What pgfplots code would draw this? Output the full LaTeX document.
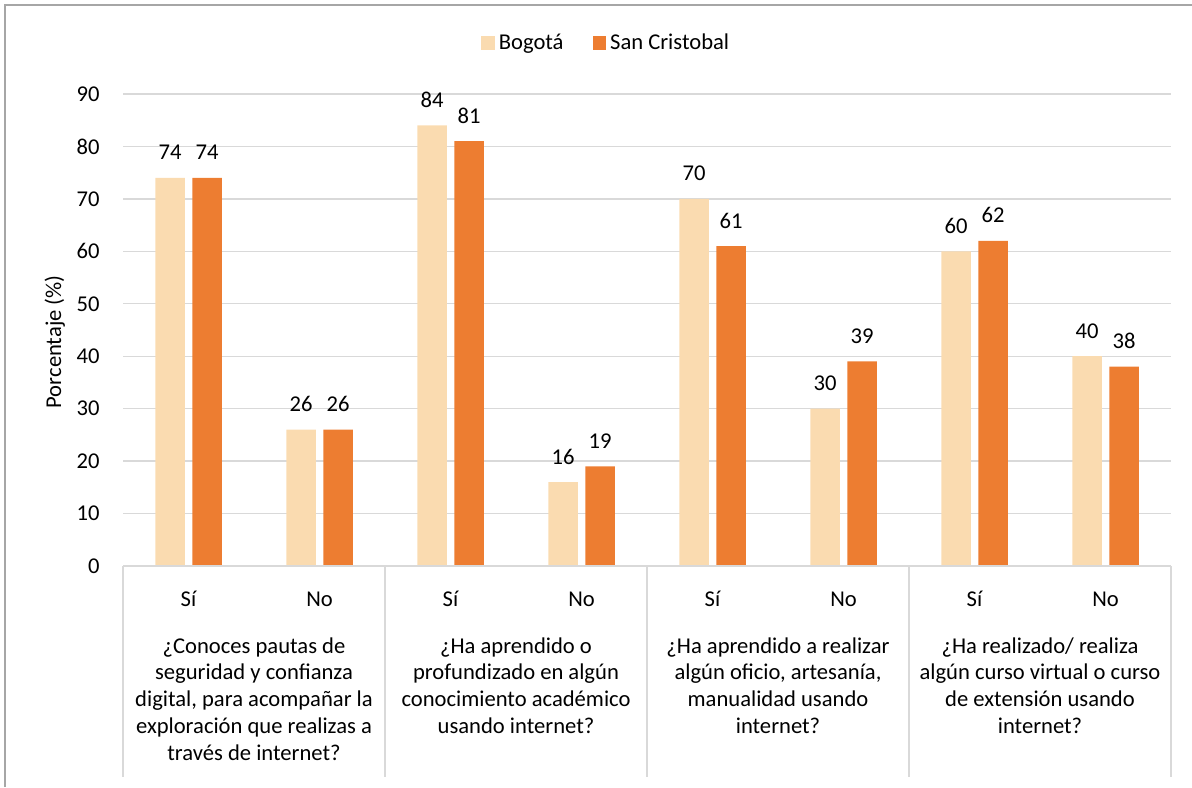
\documentclass[border=0pt]{standalone}
\usepackage{pgfplots}
\pgfplotsset{compat=1.18}
\usepackage{fontspec}
\setmainfont{Carlito}
\definecolor{bog}{HTML}{FADBB0}
\definecolor{sanc}{HTML}{ED7D31}
\definecolor{gridc}{HTML}{D9D9D9}
\definecolor{framec}{HTML}{A6A6A6}

\begin{document}
\begin{tikzpicture}
\useasboundingbox (0,0) rectangle (596pt,393.5pt);
\draw[framec, line width=0.8pt] (2.5pt,0) -- (2.5pt,391pt) -- (596pt,391pt);
\begin{axis}[
  at={(61.5pt,110.5pt)}, anchor=south west,
  scale only axis, width=524pt, height=236pt,
  font=\fontsize{11.3pt}{13.4pt}\selectfont,
  ymin=0, ymax=90, ytick={0,10,...,90},
  xmin=-0.5, xmax=7.5,
  xtick={0,...,7},
  xticklabels={Sí,No,Sí,No,Sí,No,Sí,No},
  axis line style={draw=none},
  major tick length=0pt,
  ymajorgrids, grid style={gridc, line width=0.7pt},
  yticklabel style={anchor=east, inner sep=0pt, xshift=-11.5pt},
  xticklabel style={anchor=base, inner sep=0pt, yshift=-20pt},
  ylabel={Porcentaje (\%)},
  ylabel style={at={(rel axis cs:0,0.475)}, anchor=south, yshift=25.5pt},
  /pgf/number format/assume math mode=true,
  clip=false,
  ybar, bar width=14.75pt,
  nodes near coords,
  every node near coord/.append style={anchor=base, yshift=9pt, inner sep=0pt, black},
  legend style={at={(0.462,1.108)}, anchor=center, draw=none, fill=none,
    legend columns=2,
    /tikz/every even column/.append style={column sep=12.5pt}},
  legend cell align=left,
  legend image code/.code={\fill[#1] (-2pt,-3.4pt) rectangle (4.8pt,3.4pt);},
]
\addplot[draw=none, fill=bog, bar shift=-9.25pt]
  coordinates {(0,74)(1,26)(2,84)(3,16)(4,70)(5,30)(6,60)(7,40)};
\addplot[draw=none, fill=sanc, bar shift=9.25pt]
  coordinates {(0,74)(1,26)(2,81)(3,19)(4,61)(5,39)(6,62)(7,38)};
\legend{Bogotá,San Cristobal}

\draw[gridc, line width=0.7pt] (axis cs:-0.5,0) -- (axis cs:7.5,0);
\draw[gridc, line width=0.7pt] (axis cs:-0.5,0) -- ([yshift=-105.5pt]axis cs:-0.5,0);
\draw[gridc, line width=0.7pt] (axis cs:1.5,0) -- ([yshift=-105.5pt]axis cs:1.5,0);
\draw[gridc, line width=0.7pt] (axis cs:3.5,0) -- ([yshift=-105.5pt]axis cs:3.5,0);
\draw[gridc, line width=0.7pt] (axis cs:5.5,0) -- ([yshift=-105.5pt]axis cs:5.5,0);
\draw[gridc, line width=0.7pt] (axis cs:7.5,0) -- ([yshift=-105.5pt]axis cs:7.5,0);
\node[anchor=north, align=center, inner sep=0pt] at ([yshift=-35.5pt]axis cs:0.5,0) {¿Conoces pautas de\\seguridad y confianza\\digital, para acompañar la\\exploración que realizas a\\través de internet?};
\node[anchor=north, align=center, inner sep=0pt] at ([yshift=-35.5pt]axis cs:2.5,0) {¿Ha aprendido o\\profundizado en algún\\conocimiento académico\\usando internet?};
\node[anchor=north, align=center, inner sep=0pt] at ([yshift=-35.5pt]axis cs:4.5,0) {¿Ha aprendido a realizar\\algún oficio, artesanía,\\manualidad usando\\internet?};
\node[anchor=north, align=center, inner sep=0pt] at ([yshift=-35.5pt]axis cs:6.5,0) {¿Ha realizado/ realiza\\algún curso virtual o curso\\de extensión usando\\internet?};
\end{axis}
\end{tikzpicture}
\end{document}
